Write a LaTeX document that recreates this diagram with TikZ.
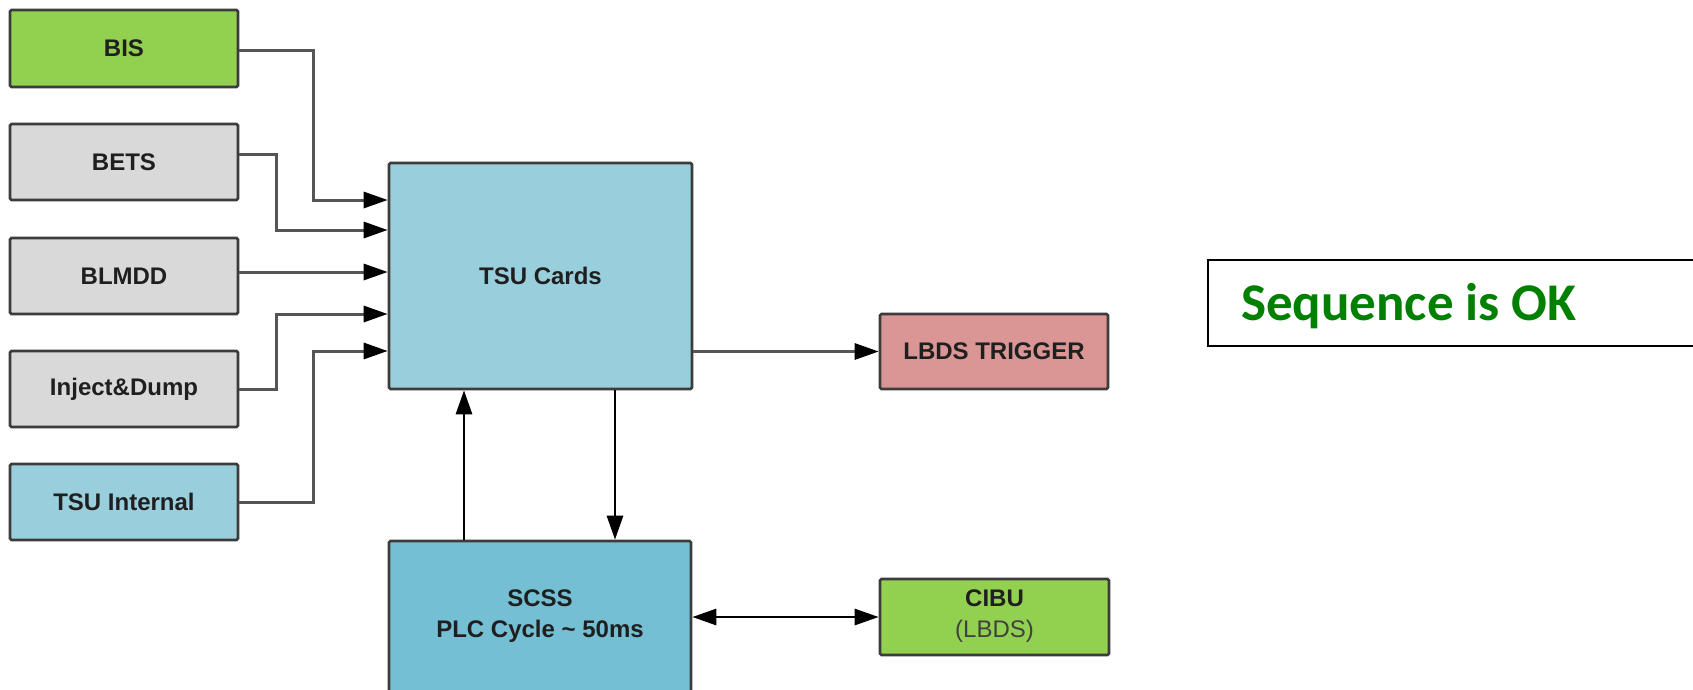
\documentclass[tikz,border=0pt]{standalone}
\usepackage{fontspec}
\setmainfont{Liberation Sans}
\newfontfamily\calfont{Carlito}
\usetikzlibrary{arrows.meta}
\definecolor{boxgreen}{RGB}{146,208,80}
\definecolor{boxgrey}{RGB}{217,217,217}
\definecolor{boxblue}{RGB}{153,207,221}
\definecolor{boxdeep}{RGB}{116,191,212}
\definecolor{boxred}{RGB}{218,150,148}
\definecolor{edge}{RGB}{60,60,60}
\definecolor{wire}{RGB}{85,85,85}
\definecolor{okgreen}{RGB}{0,128,0}
\tikzset{
  blk/.style={draw=edge, line width=2.6pt, rounded corners=1.5pt, inner sep=0pt,
    font=\fontsize{24}{28}\selectfont\bfseries, text=black!88},
  lbl/.style={font=\fontsize{24}{28}\selectfont\bfseries, text=black!88, inner sep=0pt},
  conn/.style={draw=wire, line width=3pt, -{Triangle[length=24pt,width=16pt,fill=black,color=black]}},
  link/.style={draw=black, line width=2.8pt, -{Triangle[length=24pt,width=16pt]}},
  duplex/.style={draw=black, line width=2.8pt, {Triangle[length=24pt,width=16pt]}-{Triangle[length=24pt,width=16pt]}},
}
\begin{document}
\begin{tikzpicture}[x=1pt, y=-1pt]
\useasboundingbox (0,0) rectangle (1693,689);
\clip (0,0) rectangle (1693,689);
\fill[white] (0,0) rectangle (1693,689);

% source blocks on the left
\node[blk, fill=boxgreen, minimum width=228pt, minimum height=77pt] (bis) at (124,48.5) {BIS};
\node[blk, fill=boxgrey, minimum width=228pt, minimum height=76pt] (bets) at (124,162) {BETS};
\node[blk, fill=boxgrey, minimum width=228pt, minimum height=76pt] (blmdd) at (124,276) {BLMDD};
\node[blk, fill=boxgrey, minimum width=228pt, minimum height=76pt] (inject) at (124,389) {Inject\&Dump};
\node[blk, fill=boxblue, minimum width=228pt, minimum height=76pt] (tsuint) at (124,502) {TSU Internal};

% central blocks
\node[blk, fill=boxblue, minimum width=303pt, minimum height=226pt] (tsu) at (540.5,276) {TSU Cards};
\node[blk, fill=boxdeep, minimum width=302pt, minimum height=230pt] (scss) at (540,656) {};
\node[lbl] (scsst) at (540,598) {SCSS};
\node[lbl] (plc) at (540,631) {PLC Cycle \char`\~{} 50ms};

% outputs on the right
\node[blk, fill=boxred, minimum width=228pt, minimum height=75pt] (trig) at (994,351.5) {LBDS TRIGGER};
\node[blk, fill=boxgreen, minimum width=229pt, minimum height=76pt] (cibu) at (994.5,617) {};
\node[lbl] (cibut) at (994.5,598) {CIBU};
\node[lbl, font=\fontsize{24}{28}\selectfont, text=black!75] (cibus) at (994.5,631) {(LBDS)};

% status box, running off the right edge
\draw[black, line width=2pt] (1760,260) -- (1208,260) -- (1208,346) -- (1760,346);
\node[anchor=base west, inner sep=0pt, text=okgreen, font=\calfont\fontsize{53}{60}\selectfont\bfseries] (seq) at (1241,320) {Sequence is OK};

% input wiring
\draw[conn] (bis.east |- 0,50) -- (313,50) |- (tsu.west |- 0,200);
\draw[conn] (bets.east |- 0,154) -- (276,154) |- (tsu.west |- 0,230);
\draw[conn] (blmdd.east |- 0,272) -- (tsu.west |- 0,272);
\draw[conn] (inject.east) -- (276,389) |- (tsu.west |- 0,314);
\draw[conn] (tsuint.east) -- (313,502) |- (tsu.west |- 0,351);

% outputs and control loop
\draw[conn] (tsu.east |- trig.west) -- (trig.west);
\draw[link] (scss.north -| 464,0) -- (tsu.south -| 464,0);
\draw[link] (tsu.south -| 615,0) -- (scss.north -| 615,0);
\draw[duplex] (scss.east |- cibu.west) -- (cibu.west);
\end{tikzpicture}
\end{document}
